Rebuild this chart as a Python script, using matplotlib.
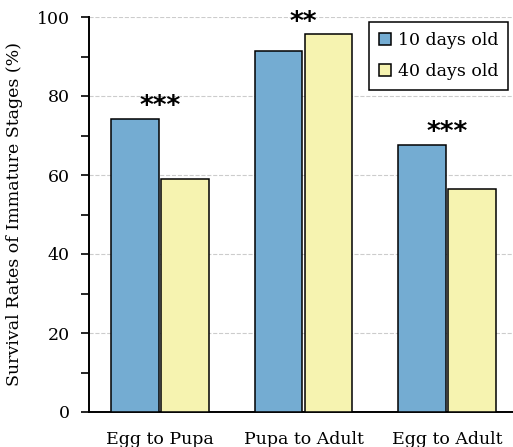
import numpy as np
import matplotlib.pyplot as plt

stages = ["Egg to Pupa", "Pupa to Adult", "Egg to Adult"]
young = [74.3, 91.4, 67.6]
old = [59.1, 95.6, 56.5]
signif = ["***", "**", "***"]
series_labels = ["10 days old", "40 days old"]

plt.rcParams['font.family'] = ['DejaVu Serif']

fig = plt.figure(figsize=(5.13, 4.47), dpi=100)
ax = fig.add_axes([89 / 513, 1 - 412 / 447, (513 - 89) / 513, (412 - 17) / 447])

x = np.arange(len(stages))
w = 0.33
off = 0.175
ax.bar(x - off, young, w, color="#74acd2", edgecolor="black", linewidth=1.1,
       label=series_labels[0], zorder=3)
ax.bar(x + off, old, w, color="#f6f3b0", edgecolor="black", linewidth=1.1,
       label=series_labels[1], zorder=3)

for i, s in enumerate(signif):
    top = max(young[i], old[i])
    ax.text(x[i], top - 0.3, s, ha="center", va="bottom", fontsize=19,
            family="DejaVu Sans", fontweight="bold", zorder=4)

ax.set_xlim(-0.495, 2.46)
ax.set_ylim(0, 100)
ax.set_yticks(np.arange(0, 101, 20))
ax.set_yticks(np.arange(10, 100, 20), minor=True)
ax.set_xticks(x)
ax.set_xticklabels(stages)
ax.tick_params(axis='x', length=0, pad=14, labelsize=12.5)
ax.tick_params(axis='y', which='major', length=6, width=1.2, labelsize=12.5, pad=8)
ax.tick_params(axis='y', which='minor', length=6, width=1.2)
ax.grid(axis='y', which='major', linestyle='--', color='#cccccc', linewidth=0.8, zorder=0)
ax.set_axisbelow(True)
for side in ["top", "right"]:
    ax.spines[side].set_visible(False)
ax.spines["left"].set_linewidth(1.4)
ax.spines["bottom"].set_linewidth(1.4)
ax.set_ylabel("Survival Rates of Immature Stages (%)", fontsize=12.5, labelpad=10)

leg = ax.legend(loc="upper right", bbox_to_anchor=(0.988, 0.987), borderaxespad=0,
                fontsize=12.5, handlelength=0.7, handleheight=0.7, handletextpad=0.4,
                fancybox=False, edgecolor="black", framealpha=1,
                borderpad=0.55, labelspacing=0.85)
leg.get_frame().set_linewidth(1.1)

fig.savefig("out.png", dpi=100)
